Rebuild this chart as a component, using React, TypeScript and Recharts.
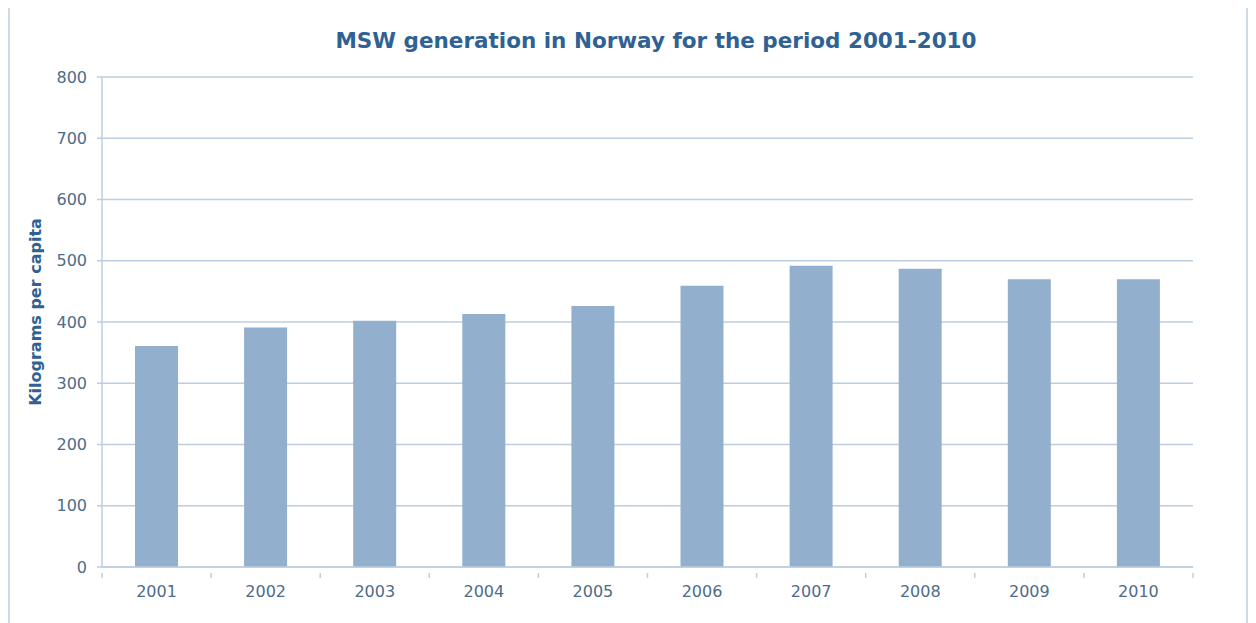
import { BarChart, Bar, XAxis, YAxis, CartesianGrid } from 'recharts';

const years = ['2001', '2002', '2003', '2004', '2005', '2006', '2007', '2008', '2009', '2010'];
const kgPerCapita = [361, 391, 402, 413, 426, 459, 492, 487, 470, 470];
const yTicks = [0, 100, 200, 300, 400, 500, 600, 700, 800];

const chartData = years.map((year, i) => ({ year, value: kgPerCapita[i] }));

const FONT = '"DejaVu Sans", Verdana, sans-serif';
const LINE = '#bccedf';
const TEXT = '#4d6b8a';
const TITLE = '#2f6193';

// label in the middle of each band, tick marks on the band edges
const YearTick = (props: any) => {
  const { x, y, payload, index } = props;
  const half = payload?.offset ?? 0;
  return (
    <g>
      <line x1={x - half} y1={y - 12} x2={x - half} y2={y - 7} stroke={LINE} strokeWidth={1.5} />
      {index === years.length - 1 && (
        <line x1={x + half} y1={y - 12} x2={x + half} y2={y - 7} stroke={LINE} strokeWidth={1.5} />
      )}
      <text x={x} y={y} dy={12} textAnchor="middle" fill={TEXT} fontSize={16} fontFamily={FONT}>
        {payload.value}
      </text>
    </g>
  );
};

export default function App() {
  return (
    <div style={{ position: 'relative', width: 1240, height: 615, fontFamily: FONT }}>
      <div
        style={{
          position: 'absolute',
          left: 0,
          top: -2,
          width: 1240,
          height: 640,
          border: '2px solid #cddbe9',
          boxSizing: 'border-box',
        }}
      />
      <div
        style={{
          position: 'absolute',
          left: 648,
          top: 20,
          transform: 'translateX(-50%)',
          whiteSpace: 'nowrap',
          color: TITLE,
          fontWeight: 'bold',
          fontSize: 21.5,
        }}
      >
        MSW generation in Norway for the period 2001-2010
      </div>
      <div
        style={{
          position: 'absolute',
          left: 27,
          top: 304,
          transform: 'translate(-50%, -50%) rotate(-90deg)',
          whiteSpace: 'nowrap',
          color: TITLE,
          fontWeight: 'bold',
          fontSize: 16,
        }}
      >
        Kilograms per capita
      </div>
      <div style={{ position: 'absolute', left: 0, top: 0 }}>
        <BarChart
          width={1240}
          height={615}
          data={chartData}
          margin={{ top: 69, right: 55, left: 0, bottom: 0 }}
          barSize={43}
        >
          <CartesianGrid vertical={false} stroke={LINE} strokeWidth={1.5} />
          <XAxis
            dataKey="year"
            height={56}
            axisLine={{ stroke: LINE, strokeWidth: 1.5 }}
            tickLine={false}
            tickMargin={12}
            tick={<YearTick />}
            interval={0}
          />
          <YAxis
            width={94}
            domain={[0, 800]}
            ticks={yTicks}
            interval={0}
            axisLine={{ stroke: LINE, strokeWidth: 1.5 }}
            tickLine={{ stroke: LINE, strokeWidth: 1.5 }}
            tickSize={5}
            tickMargin={10}
            tick={{ fill: TEXT, fontSize: 16, fontFamily: FONT }}
          />
          <Bar dataKey="value" fill="#92afce" isAnimationActive={false} />
        </BarChart>
      </div>
    </div>
  );
}
